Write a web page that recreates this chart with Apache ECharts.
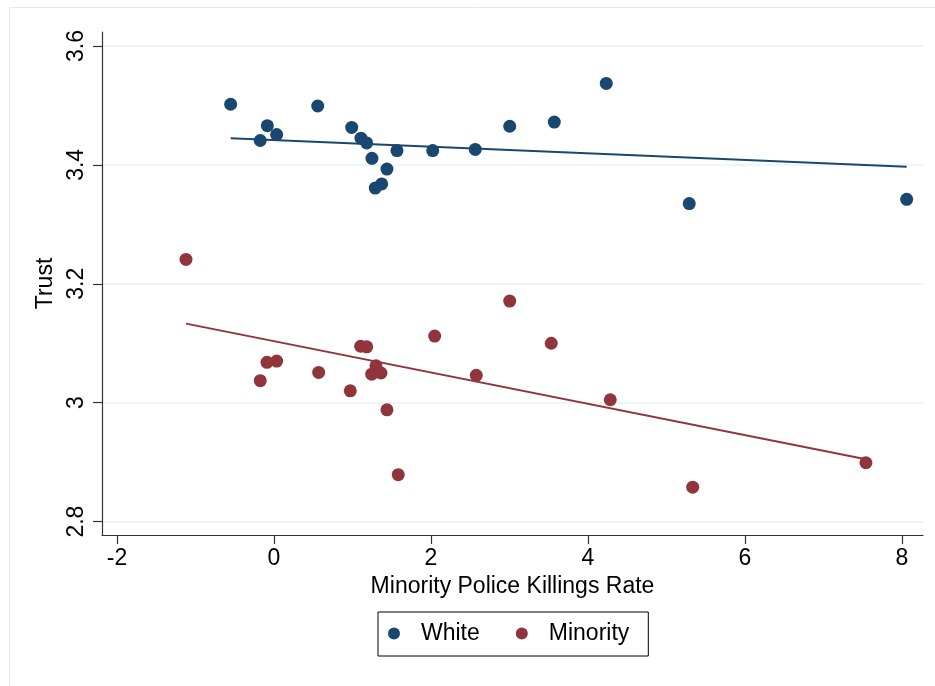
<!DOCTYPE html>
<html>
<head>
<meta charset="utf-8">
<script src="https://cdn.jsdelivr.net/npm/echarts@6/dist/echarts.min.js"></script>
<style>html,body{margin:0;padding:0;background:#fff}#c{width:935px;height:686px}</style>
</head>
<body>
<div id="c"></div>
<script>
const xTicks = [-2, 0, 2, 4, 6, 8];
const yTicks = [2.8, 3.0, 3.2, 3.4, 3.6];

const whiteX = [-0.552, -0.085, 0.034, -0.175, 0.557, 0.990, 1.108, 1.181, 1.248, 1.567, 1.439, 1.372, 1.290, 2.022, 2.564, 3.003, 3.571, 4.233, 5.290, 8.060];
const whiteY = [3.502, 3.466, 3.451, 3.441, 3.499, 3.463, 3.445, 3.437, 3.411, 3.424, 3.393, 3.368, 3.361, 3.424, 3.426, 3.465, 3.472, 3.537, 3.335, 3.342];

const minorityX = [-1.121, -0.089, 0.034, -0.175, 0.569, 0.972, 1.104, 1.181, 1.299, 1.245, 1.363, 1.439, 1.583, 2.047, 2.577, 3.003, 3.532, 4.284, 5.334, 7.541];
const minorityY = [3.241, 3.068, 3.070, 3.037, 3.051, 3.020, 3.095, 3.094, 3.062, 3.048, 3.050, 2.988, 2.879, 3.112, 3.046, 3.171, 3.100, 3.005, 2.858, 2.899];

const whiteFitX = [-0.552, 8.060];
const whiteFitY = [3.445, 3.397];
const minorityFitX = [-1.121, 7.541];
const minorityFitY = [3.133, 2.905];

const navy = '#1a476f';
const maroon = '#90353b';
const font = '"Liberation Sans", Arial, Helvetica, sans-serif';
const fs = 23;

const zip = (a, b) => a.map((v, i) => [v, b[i]]);

const chart = echarts.init(document.getElementById('c'), null, {renderer: 'canvas'});
chart.setOption({
  animation: false,
  backgroundColor: '#fff',
  graphic: [{
    type: 'rect', silent: true, z: -10,
    shape: {x: 9.5, y: 7.5, width: 940, height: 700},
    style: {fill: 'none', stroke: '#e6e9ea', lineWidth: 1}
  }],
  grid: {left: 102, right: 12, top: 32, bottom: 151, containLabel: false},
  xAxis: {
    type: 'value', min: -2.191, max: 8.268,
    name: 'Minority Police Killings Rate', nameLocation: 'middle', nameGap: 38,
    nameTextStyle: {fontFamily: font, fontSize: fs, color: '#000', verticalAlign: 'top'},
    axisLine: {show: true, onZero: false, lineStyle: {color: '#333', width: 1.2}},
    axisTick: {show: true, length: 9, customValues: xTicks, lineStyle: {color: '#333', width: 1.2}},
    axisLabel: {customValues: xTicks, margin: 12, fontFamily: font, fontSize: fs, color: '#000',
      formatter: v => String(v)},
    splitLine: {show: false}
  },
  yAxis: {
    type: 'value', min: 2.7775, max: 3.6235,
    name: 'Trust', nameLocation: 'middle', nameGap: 38, nameRotate: 90,
    nameTextStyle: {fontFamily: font, fontSize: fs, color: '#000'},
    axisLine: {show: true, onZero: false, lineStyle: {color: '#333', width: 1.2}},
    axisTick: {show: true, length: 9, customValues: yTicks, lineStyle: {color: '#333', width: 1.2}},
    axisLabel: {customValues: yTicks, rotate: 90, margin: 14, fontFamily: font, fontSize: fs, color: '#000',
      formatter: v => String(Math.round(v * 10) / 10)},
    splitLine: {show: true, lineStyle: {color: '#eaf2f3', width: 1.5}}
  },
  legend: {
    left: 378, top: 612,
    orient: 'horizontal',
    data: [{name: 'White', icon: 'circle'}, {name: 'Minority', icon: 'circle'}],
    itemWidth: 12, itemHeight: 12, itemGap: 36,
    padding: [10, 19, 11, 10],
    borderColor: '#000', borderWidth: 1, borderRadius: 0,
    textStyle: {fontFamily: font, fontSize: fs, color: '#000', padding: [0, 0, 0, 16]}
  },
  series: [
    {name: 'White', type: 'scatter', data: zip(whiteX, whiteY), symbolSize: 13,
      itemStyle: {color: navy, opacity: 1}, z: 3},
    {name: 'Minority', type: 'scatter', data: zip(minorityX, minorityY), symbolSize: 13,
      itemStyle: {color: maroon, opacity: 1}, z: 3},
    {name: 'White fit', type: 'line', data: zip(whiteFitX, whiteFitY), symbol: 'none',
      lineStyle: {color: navy, width: 2}, z: 2, silent: true},
    {name: 'Minority fit', type: 'line', data: zip(minorityFitX, minorityFitY), symbol: 'none',
      lineStyle: {color: maroon, width: 2}, z: 2, silent: true}
  ]
});
</script>
</body>
</html>
